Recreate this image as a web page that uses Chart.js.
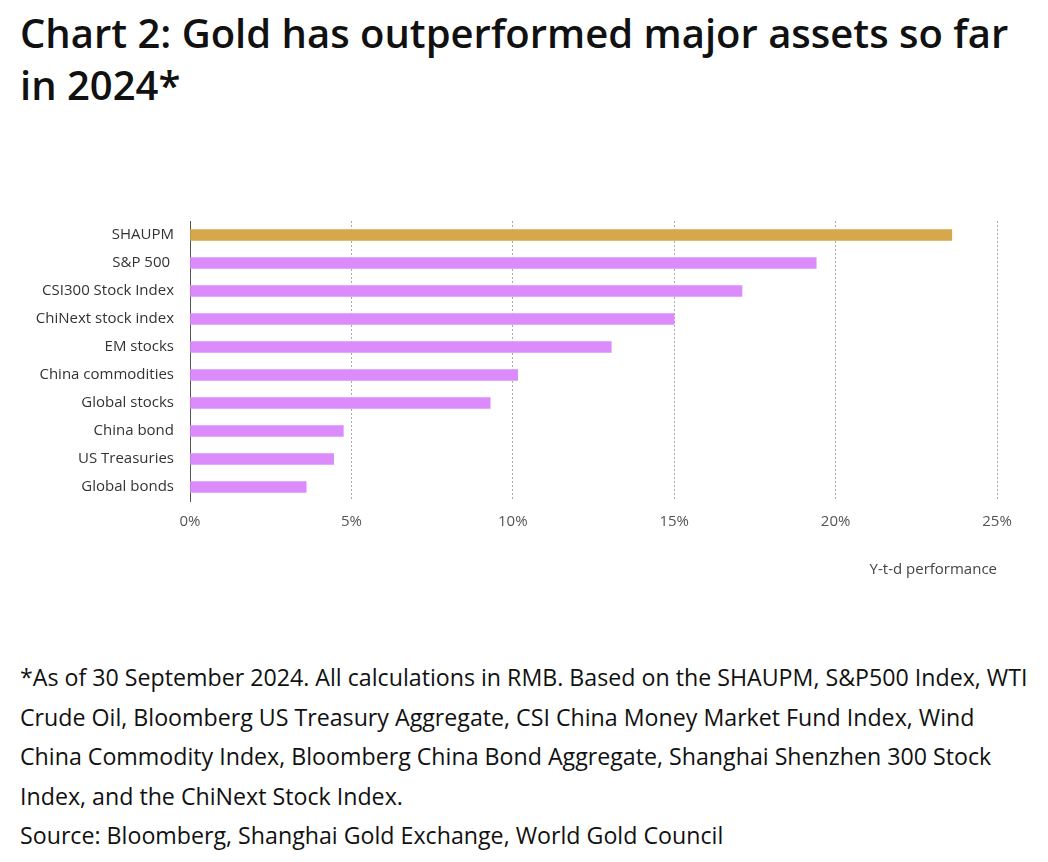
<!DOCTYPE html>
<html>
<head>
<meta charset="utf-8">
<script src="https://cdn.jsdelivr.net/npm/chart.js@4"></script>
<style>
  body { margin: 0; background: #fff; font-family: "Open Sans", sans-serif; width: 1048px; height: 862px; position: relative; overflow: hidden; }
  h1 { position: absolute; left: 20px; top: 7px; margin: 0; font-size: 40px; line-height: 52px; font-weight: 600; color: #111; white-space: nowrap; }
  #wrap { position: absolute; left: 0; top: 196px; width: 1048px; height: 393px; }
  .note { position: absolute; left: 20px; top: 658px; margin: 0; font-size: 23.2px; line-height: 39.5px; color: #111; white-space: nowrap; }
</style>
</head>
<body>
<h1>Chart 2: Gold has outperformed major assets so far<br>in 2024*</h1>
<div id="wrap"><canvas id="chart"></canvas></div>
<p class="note">*As of 30 September 2024. All calculations in RMB. Based on the SHAUPM, S&amp;P500 Index, WTI<br>Crude Oil, Bloomberg US Treasury Aggregate, CSI China Money Market Fund Index, Wind<br>China Commodity Index, Bloomberg China Bond Aggregate, Shanghai Shenzhen 300 Stock<br>Index, and the ChiNext Stock Index.<br>Source: Bloomberg, Shanghai Gold Exchange, World Gold Council</p>

<script>
const assets = ['SHAUPM', 'S&P 500 ', 'CSI300 Stock Index', 'ChiNext stock index', 'EM stocks',
  'China commodities', 'Global stocks', 'China bond', 'US Treasuries', 'Global bonds']
const ytdPerf = [23.6, 19.4, 17.1, 15.0, 13.05, 10.15, 9.3, 4.75, 4.45, 3.6]
const barColors = ['#D6A84B', '#DB8BFC', '#DB8BFC', '#DB8BFC', '#DB8BFC', '#DB8BFC', '#DB8BFC', '#DB8BFC', '#DB8BFC', '#DB8BFC']

const ctx = document.querySelector('#chart')

const myChart = new Chart(ctx, {
  type: 'bar',

  data: {
    labels: assets,
    datasets: [{
      label: 'Y-t-d performance',
      data: ytdPerf,
      backgroundColor: barColors,
      barThickness: 11
    }]
  },

  options: {
    indexAxis: 'y',
    responsive: true,
    maintainAspectRatio: false,
    animation: false,
    layout: { padding: { top: 20, right: 51, left: 0, bottom: 10 } },
    plugins: {
      legend: { display: false },
      tooltip: { enabled: false }
    },
    scales: {
      x: {
        min: 0,
        max: 25,
        ticks: {
          stepSize: 5,
          padding: 12,
          color: '#555',
          font: { family: 'Open Sans', size: 15 },
          callback: v => v + '%'
        },
        grid: {
          drawTicks: false,
          color: c => c.tick && c.tick.value === 0 ? 'rgba(0,0,0,0)' : '#aaa'
        },
        border: { display: false, dash: [2, 2] },
        title: {
          display: true,
          text: 'Y-t-d performance',
          align: 'end',
          color: '#444',
          font: { family: 'Open Sans', size: 15 },
          padding: { top: 18, bottom: 0 }
        }
      },
      y: {
        afterFit: scale => { scale.width = 190 },
        ticks: {
          padding: 16,
          color: '#333',
          font: { family: 'Open Sans', size: 15 }
        },
        grid: { display: false, drawTicks: false },
        border: { display: true, color: '#555', width: 1 }
      }
    }
  }
})
</script>
</body>
</html>
